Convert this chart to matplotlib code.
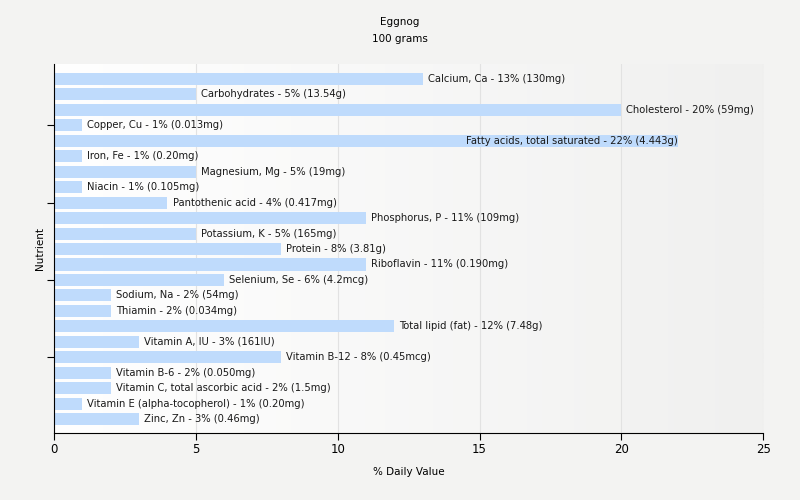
import numpy as np
import matplotlib.pyplot as plt

nutrients = ["Calcium, Ca", "Carbohydrates", "Cholesterol", "Copper, Cu",
             "Fatty acids, total saturated", "Iron, Fe", "Magnesium, Mg", "Niacin",
             "Pantothenic acid", "Phosphorus, P", "Potassium, K", "Protein",
             "Riboflavin", "Selenium, Se", "Sodium, Na", "Thiamin",
             "Total lipid (fat)", "Vitamin A, IU", "Vitamin B-12", "Vitamin B-6",
             "Vitamin C, total ascorbic acid", "Vitamin E (alpha-tocopherol)", "Zinc, Zn"]
daily = [13, 5, 20, 1, 22, 1, 5, 1, 4, 11, 5, 8, 11, 6, 2, 2, 12, 3, 8, 2, 2, 1, 3]
amounts = ["130mg", "13.54g", "59mg", "0.013mg", "4.443g", "0.20mg", "19mg", "0.105mg",
           "0.417mg", "109mg", "165mg", "3.81g", "0.190mg", "4.2mcg", "54mg", "0.034mg",
           "7.48g", "161IU", "0.45mcg", "0.050mg", "1.5mg", "0.20mg", "0.46mg"]

fig = plt.figure(figsize=(8, 5), dpi=100, facecolor="#f3f3f2")
ax = fig.add_axes([0.0675, 0.134, 0.8865, 0.738])
ax.set_facecolor("#f3f3f2")

# gradient background white -> light grey
grad = np.linspace(0, 1, 256).reshape(1, -1)
ax.imshow(grad, extent=[0, 25, 22.9, -0.97], aspect="auto", cmap=plt.matplotlib.colors.LinearSegmentedColormap.from_list("g", ["#ffffff", "#f0f0ef"]), zorder=0)

y = np.arange(len(nutrients))
ax.barh(y, daily, height=0.78, color="#bfdbfc", zorder=2)

for i, (n, d, a) in enumerate(zip(nutrients, daily, amounts)):
    txt = f"{n} - {d}% ({a})"
    if d > 20:
        ax.text(d - 0.02, i, txt, va="center", ha="right", fontsize=7.2, color="#1a1a1a", zorder=3)
    else:
        ax.text(d + 0.18, i, txt, va="center", ha="left", fontsize=7.2, color="#1a1a1a", zorder=3)

ax.set_xlim(0, 25)
ax.set_ylim(22.9, -0.97)
ax.set_xticks([0, 5, 10, 15, 20, 25])
ax.set_yticks([3, 8, 13, 18])
ax.set_yticklabels([])
ax.grid(axis="x", color="#e2e2e2", linewidth=0.8, zorder=1)
ax.set_axisbelow(True)
for s in ["top", "right"]:
    ax.spines[s].set_visible(False)
ax.tick_params(axis="x", labelsize=8.5, length=5, pad=2)
ax.tick_params(axis="y", length=5)
ax.set_xlabel("% Daily Value", fontsize=7.5, labelpad=8)
ax.set_ylabel("Nutrient", fontsize=7.5, labelpad=-2)
fig.text(0.5, 0.956, "Eggnog", ha="center", va="center", fontsize=7.5)
fig.text(0.5, 0.922, "100 grams", ha="center", va="center", fontsize=7.5)

fig.savefig("out.png", dpi=100, facecolor=fig.get_facecolor())
